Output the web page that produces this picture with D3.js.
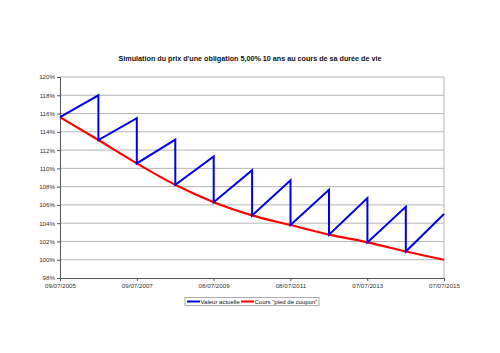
<!DOCTYPE html>
<html>
<head>
<meta charset="utf-8">
<script src="https://cdn.jsdelivr.net/npm/d3@7"></script>
<style>
  body { margin: 0; background: #fff; }
  svg { display: block; font-family: "Liberation Sans", Arial, sans-serif; }
</style>
</head>
<body>
<svg id="chart"></svg>
<script>
const parse = d3.timeParse('%Y-%m-%d')

// dates: issue, yearly coupon dates, maturity
const dates = ['2005-07-09', '2006-07-09', '2007-07-09', '2008-07-09', '2009-07-09', '2010-07-09',
  '2011-07-09', '2012-07-09', '2013-07-09', '2014-07-09', '2015-07-07']
// "Cours pied de coupon" (clean price, %)
const cleanPrice = [115.6, 113.1, 110.55, 108.2, 106.3, 104.85, 103.8, 102.75, 101.9, 100.9, 100.0]
// "Valeur actuelle" just before each coupon date (%)
const valueBefore = [118.0, 115.5, 113.15, 111.3, 109.8, 108.7, 107.65, 106.75, 105.8, 105.0]
// "Valeur actuelle" just after each coupon is paid (%)
const valueAfter = [113.1, 110.55, 108.2, 106.3, 104.85, 103.8, 102.75, 101.9, 100.9]

const yTicks = [98, 100, 102, 104, 106, 108, 110, 112, 114, 116, 118, 120]
const xTicks = ['2005-07-09', '2007-07-09', '2009-07-08', '2011-07-08', '2013-07-07', '2015-07-07']

const width = 500
const height = 353
const margin = { top: 77, right: 56, bottom: 75, left: 60 }

const svg = d3.select('#chart').attr('width', width).attr('height', height)

const x = d3.scaleTime()
  .domain([parse(dates[0]), parse(dates[dates.length - 1])])
  .range([margin.left, width - margin.right])

const y = d3.scaleLinear().domain([98, 120]).range([height - margin.bottom, margin.top])

// build the blue sawtooth from the arrays
const blue = [{ d: parse(dates[0]), v: cleanPrice[0] }]
valueBefore.forEach((v, i) => {
  blue.push({ d: parse(dates[i + 1]), v })
  if (i < valueAfter.length) blue.push({ d: parse(dates[i + 1]), v: valueAfter[i] })
})
const red = dates.map((d, i) => ({ d: parse(d), v: cleanPrice[i] }))

// title
svg.append('text')
  .attr('x', 250).attr('y', 60.5)
  .attr('text-anchor', 'middle')
  .attr('font-size', 7.2).attr('font-weight', 'bold')
  .attr('fill', '#111')
  .text("Simulation du prix d'une obligation 5,00% 10 ans au cours de sa durée de vie")

// grid
svg.append('g')
  .selectAll('line')
  .data(yTicks.slice(1))
  .join('line')
  .attr('x1', margin.left).attr('x2', width - margin.right)
  .attr('y1', d => y(d)).attr('y2', d => y(d))
  .attr('stroke', '#b4b4b4').attr('stroke-width', 1)

// right border
svg.append('line')
  .attr('x1', width - margin.right).attr('x2', width - margin.right)
  .attr('y1', margin.top).attr('y2', height - margin.bottom)
  .attr('stroke', '#b4b4b4')

// y axis
const yAxis = svg.append('g')
  .attr('transform', `translate(${margin.left},0)`)
  .call(d3.axisLeft(y).tickValues(yTicks).tickSize(3).tickPadding(2).tickFormat(d => d + '%'))
yAxis.select('.domain').attr('stroke', '#555')
yAxis.selectAll('.tick line').attr('stroke', '#555')
yAxis.selectAll('text').attr('font-size', 6.2).attr('fill', '#333').attr('font-family', null)

// x axis
const xAxis = svg.append('g')
  .attr('transform', `translate(0,${height - margin.bottom})`)
  .call(d3.axisBottom(x).tickValues(xTicks.map(parse)).tickSize(3).tickPadding(3)
    .tickFormat(d3.timeFormat('%d/%m/%Y')))
xAxis.select('.domain').attr('stroke', '#555')
xAxis.selectAll('.tick line').attr('stroke', '#555')
xAxis.selectAll('text').attr('font-size', 6.2).attr('fill', '#333').attr('font-family', null)

// red line
svg.append('path')
  .datum(red)
  .attr('fill', 'none')
  .attr('stroke', '#ff0000')
  .attr('stroke-width', 2.2)
  .attr('d', d3.line().x(d => x(d.d)).y(d => y(d.v)).curve(d3.curveMonotoneX))

// blue line
svg.append('path')
  .datum(blue)
  .attr('fill', 'none')
  .attr('stroke', '#0000e6')
  .attr('stroke-width', 2)
  .attr('stroke-linejoin', 'miter')
  .attr('d', d3.line().x(d => x(d.d)).y(d => y(d.v)))

// legend
const legend = svg.append('g').attr('transform', 'translate(185,297.5)')
legend.append('rect')
  .attr('width', 134).attr('height', 8)
  .attr('fill', '#fff').attr('stroke', '#999').attr('stroke-width', 0.8)

const items = [
  { name: 'Valeur actuelle', color: '#0000e6', x: 2 },
  { name: 'Cours "pied de coupon"', color: '#ff0000', x: 56 },
]
items.forEach(it => {
  legend.append('line')
    .attr('x1', it.x).attr('x2', it.x + 13)
    .attr('y1', 4).attr('y2', 4)
    .attr('stroke', it.color).attr('stroke-width', 2)
  legend.append('text')
    .attr('x', it.x + 13.5).attr('y', 6.3)
    .attr('font-size', 6).attr('fill', '#111')
    .text(it.name)
})
</script>
</body>
</html>
